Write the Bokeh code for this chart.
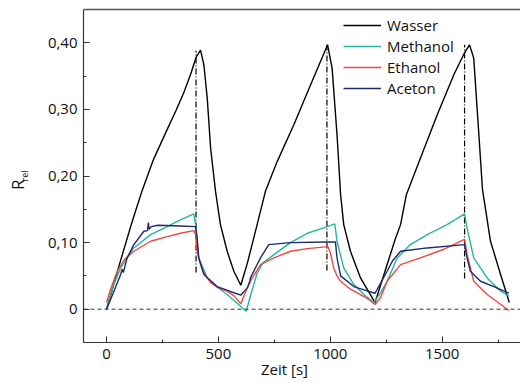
import math
from bokeh.plotting import figure
from bokeh.models import (Range1d, FixedTicker, LinearAxis, Span,
                          Legend, LegendItem)
from bokeh.embed import file_html
from bokeh.resources import INLINE

# ---------------- data ----------------
wasser_t = [0, 60, 115, 159, 210, 267, 310, 345, 375, 400, 420, 435, 450, 465, 487,
            509, 539, 569, 600, 630, 673, 710, 763, 837, 912, 960, 988, 1008, 1030,
            1046, 1060, 1090, 1135, 1200, 1254, 1290, 1314, 1340, 1403, 1478, 1552,
            1600, 1622, 1641, 1664, 1680, 1716, 1761, 1800]
wasser_v = [0, 0.07, 0.132, 0.178, 0.225, 0.267, 0.298, 0.325, 0.352, 0.378, 0.389,
            0.367, 0.317, 0.242, 0.177, 0.127, 0.087, 0.057, 0.036, 0.07, 0.127,
            0.177, 0.222, 0.277, 0.337, 0.375, 0.397, 0.362, 0.262, 0.172, 0.127,
            0.087, 0.047, 0.010, 0.067, 0.105, 0.127, 0.172, 0.227, 0.292, 0.352,
            0.385, 0.397, 0.377, 0.262, 0.18, 0.102, 0.052, 0.010]

methanol_t = [0, 30, 63, 122, 197, 271, 330, 390, 398, 412, 450, 500, 539, 580, 624,
              650, 673, 700, 748, 822, 897, 960, 1020, 1030, 1060, 1105, 1150, 1195,
              1225, 1254, 1299, 1358, 1433, 1522, 1600, 1611, 1641, 1701, 1761, 1798]
methanol_v = [0, 0.035, 0.062, 0.092, 0.112, 0.124, 0.134, 0.143, 0.127, 0.077, 0.047,
              0.032, 0.022, 0.01, -0.003, 0.028, 0.054, 0.07, 0.082, 0.1, 0.114, 0.121,
              0.128, 0.102, 0.062, 0.037, 0.022, 0.01, 0.025, 0.042, 0.077, 0.097,
              0.112, 0.127, 0.143, 0.122, 0.077, 0.047, 0.027, 0.02]

ethanol_t = [0, 20, 48, 80, 122, 197, 271, 330, 390, 398, 405, 420, 440, 465, 500, 539,
             570, 600, 620, 643, 688, 748, 822, 897, 989, 1000, 1015, 1030, 1046, 1090,
             1135, 1170, 1200, 1224, 1254, 1314, 1403, 1507, 1600, 1605, 1611, 1641,
             1701, 1750, 1798]
ethanol_v = [0.01, 0.032, 0.057, 0.075, 0.087, 0.102, 0.109, 0.114, 0.118, 0.112, 0.087,
             0.067, 0.052, 0.04, 0.032, 0.027, 0.02, 0.008, 0.025, 0.042, 0.067, 0.077,
             0.087, 0.091, 0.094, 0.085, 0.062, 0.05, 0.042, 0.03, 0.022, 0.015, 0.007,
             0.017, 0.042, 0.067, 0.077, 0.09, 0.105, 0.095, 0.082, 0.042, 0.022, 0.01,
             -0.002]

aceton_t = [0, 33, 63, 70, 75, 92, 122, 167, 183, 187, 190, 200, 230, 331, 398, 405,
            412, 435, 494, 550, 600, 629, 640, 643, 688, 725, 822, 989, 1023, 1030, 1046,
            1105, 1150, 1200, 1254, 1277, 1314, 1433, 1600, 1611, 1626, 1671, 1731, 1798]
aceton_v = [0, 0.027, 0.052, 0.06, 0.055, 0.077, 0.097, 0.117, 0.118, 0.13, 0.12, 0.124,
            0.126, 0.125, 0.124, 0.107, 0.077, 0.052, 0.034, 0.027, 0.021, 0.032, 0.042,
            0.047, 0.077, 0.097, 0.1, 0.101, 0.101, 0.077, 0.05, 0.034, 0.029, 0.024,
            0.057, 0.072, 0.087, 0.092, 0.097, 0.077, 0.057, 0.042, 0.034, 0.024]

switch_t = [400, 985, 1600]
switch_top = [0.388, 0.397, 0.397]
switch_bottom = [0.055, 0.058, 0.046]

x_ticks = [0, 500, 1000, 1500]
x_minor = [250, 750, 1250, 1750]
y_ticks = [0, 0.1, 0.2, 0.3, 0.4]
y_minor = [-0.05, 0.05, 0.15, 0.25, 0.35]
y_tick_labels = ["0", "0,10", "0,20", "0,30", "0,40"]

series_names = ["Wasser", "Methanol", "Ethanol", "Aceton"]
series_colors = ["#000000", "#26b5a0", "#f0483e", "#1c2a6b"]

FONT = "Open Sans"
W, H = 520, 382
NB = "\u00a0"

# ---------------- figure ----------------
p = figure(width=W, height=H, x_range=Range1d(-103, 1850),
           y_range=Range1d(-0.05, 0.45), output_backend="svg",
           toolbar_location=None, min_border_left=83, min_border_right=0,
           min_border_top=9, min_border_bottom=H - 342)
p.xgrid.visible = False
p.ygrid.visible = False
p.outline_line_color = None
p.background_fill_color = "white"
p.border_fill_color = "white"

for ax in (p.xaxis[0], p.yaxis[0]):
    ax.axis_line_color = "#333333"
    ax.axis_line_width = 1.2
    ax.major_tick_line_color = "#333333"
    ax.minor_tick_line_color = "#333333"
    ax.major_tick_in = 6
    ax.major_tick_out = 0
    ax.minor_tick_in = 3
    ax.minor_tick_out = 0
    ax.major_label_text_font = FONT
    ax.major_label_text_font_size = "15px"
    ax.major_label_text_color = "#111111"
    ax.major_label_standoff = 6
    ax.axis_label_text_font = FONT
    ax.axis_label_text_font_style = "normal"
    ax.axis_label_text_color = "#111111"

p.xaxis[0].ticker = FixedTicker(ticks=x_ticks, minor_ticks=x_minor)
p.yaxis[0].ticker = FixedTicker(ticks=y_ticks, minor_ticks=y_minor)
p.yaxis[0].major_label_overrides = {t: s for t, s in zip(y_ticks, y_tick_labels)}

p.xaxis[0].axis_label = "Zeit [s]" + NB * 9
p.xaxis[0].axis_label_text_font_size = "15px"
p.xaxis[0].axis_label_standoff = -3

# subscript "rel" as inner y-axis label, starting at the middle and running up
p.yaxis[0].axis_label = "rel"
p.yaxis[0].axis_label_text_font_size = "9px"
p.yaxis[0].axis_label_text_align = "left"
p.yaxis[0].axis_label_standoff = 14

# "R" on an outer, otherwise invisible axis
r_axis = LinearAxis(ticker=FixedTicker(ticks=[]), major_tick_in=0, major_tick_out=0,
                    minor_tick_in=0, minor_tick_out=0, axis_line_color=None,
                    major_label_text_font_size="0px",
                    axis_label="R" + NB * 4, axis_label_text_font=FONT,
                    axis_label_text_font_size="17px",
                    axis_label_text_font_style="normal",
                    axis_label_text_color="#111111", axis_label_standoff=-14)
p.add_layout(r_axis, "left")

top_axis = LinearAxis(ticker=FixedTicker(ticks=[]), major_tick_in=0, major_tick_out=0,
                      minor_tick_in=0, minor_tick_out=0,
                      major_label_text_font_size="0px", axis_line_color="#555555",
                      axis_line_width=1.5)
p.add_layout(top_axis, "above")

# zero line
p.add_layout(Span(location=0, dimension="width", line_color="#333333",
                  line_width=1, line_dash="4 3"))

# switch markers (dash-dot)
p.segment(x0=switch_t, y0=switch_bottom, x1=switch_t, y1=switch_top,
          line_color="black", line_width=1.2, line_dash="6 2 1 2")

renderers = []
for name, xs, ys, col in zip(series_names,
                             [wasser_t, methanol_t, ethanol_t, aceton_t],
                             [wasser_v, methanol_v, ethanol_v, aceton_v],
                             series_colors):
    r = p.line(xs, ys, line_color=col, line_width=1.4)
    renderers.append((name, r))

legend = Legend(items=[LegendItem(label=n, renderers=[r]) for n, r in renderers],
                location=(260, 244), orientation="vertical",
                border_line_color=None, background_fill_alpha=0,
                padding=0, margin=0, spacing=1, glyph_width=38, glyph_height=18,
                label_height=18, label_standoff=6,
                label_text_font=FONT, label_text_font_size="15px",
                label_text_color="#111111")
p.add_layout(legend)

open("out.html", "w").write(file_html(p, INLINE))
